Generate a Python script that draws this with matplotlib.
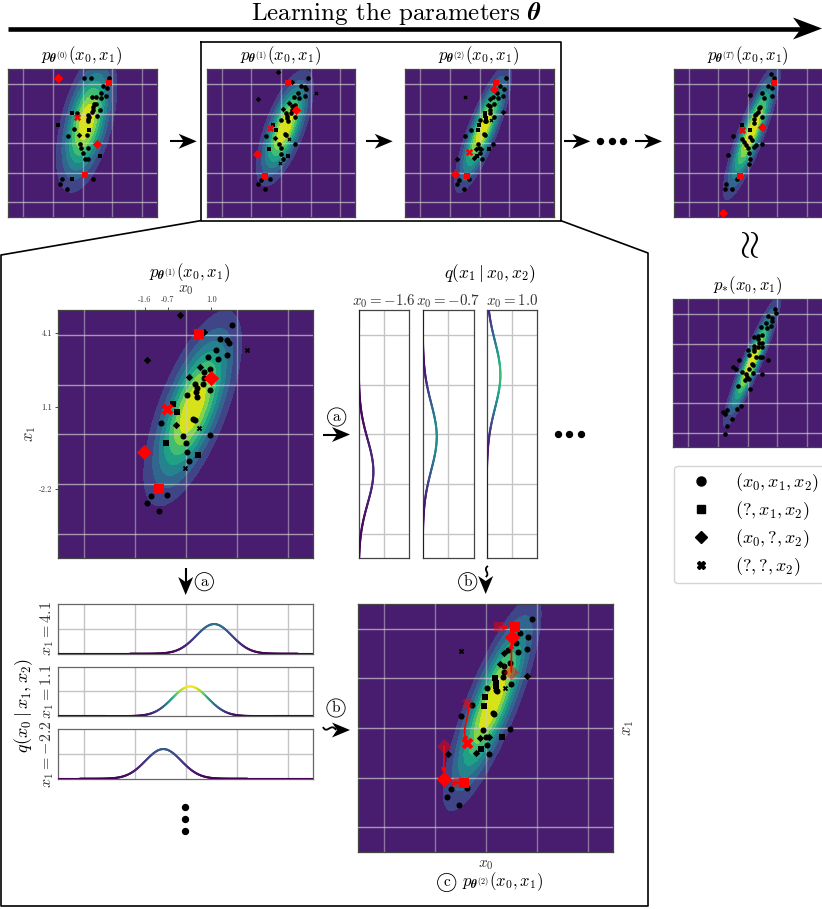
import numpy as np
import matplotlib
matplotlib.use("Agg")
import matplotlib.pyplot as plt
from matplotlib.collections import LineCollection
from matplotlib.lines import Line2D
from matplotlib.patches import FancyArrowPatch, PathPatch, Polygon
from matplotlib.path import Path

plt.rcParams["mathtext.fontset"] = "cm"
plt.rcParams["font.family"] = ["cmr10", "DejaVu Serif"]
plt.rcParams["axes.formatter.use_mathtext"] = True

# ── Data ───────────────────────────────────────────────────────────────────────
grid_vals = [-4, -2, 0, 2, 4]
x0_ticks = [-1.6, -0.7, 1.0]
x1_ticks = [4.1, 1.1, -2.2]

# gaussian per panel: mean x, mean y, sd x, sd y, rho
gauss_0 = (0.28, 1.45, 1.00, 2.33, 0.50)
gauss_1 = (0.27, 1.05, 0.94, 1.93, 0.68)
gauss_2 = (0.25, 1.00, 0.94, 2.12, 0.83)
gauss_T = (0.28, 0.80, 0.95, 2.26, 0.87)
gauss_s = (0.30, 0.80, 0.95, 2.16, 0.93)

t0_circle = [(0.10, 4.39), (0.55, 4.39), (1.79, 4.39), (1.68, 3.72), (1.36, 3.87), (1.25, 3.38), (1.59, 3.20),
             (1.25, 3.04), (0.64, 3.13), (0.89, 3.13), (0.80, 2.66), (0.93, 2.63), (0.69, 2.43), (0.73, 2.25),
             (1.16, 2.27), (0.66, 2.09), (-0.39, 2.07), (0.37, 1.91), (0.98, 1.82), (0.42, 1.75), (0.39, 1.53),
             (0.39, 1.62), (-0.55, 0.95), (0.30, 0.59), (-0.98, 0.50), (-0.17, -0.05), (-0.08, -0.34), (0.35, -0.34),
             (0.01, -0.68), (0.15, -1.06), (0.39, -1.06), (-1.36, -2.43), (-1.52, -2.75), (-1.07, -3.08), (0.71, -2.41)]
t0_square = [(-0.73, 2.05), (-1.66, 1.26), (0.42, 0.90), (1.16, -0.83), (-0.73, -2.41)]
t0_diamond = [(-0.21, 0.59)]
t0_cross = []
t0_red_square = [(1.79, 4.07), (0.15, -2.16)]
t0_red_diamond = [(-1.65, 4.39), (0.98, -0.05)]
t0_red_cross = [(-0.39, 1.75)]

t1_circle = [(1.81, 4.40), (1.36, 3.86), (1.60, 3.79), (1.68, 3.70), (1.18, 3.41), (1.61, 3.19), (1.25, 3.04),
             (0.88, 3.13), (0.94, 2.62), (0.72, 2.51), (0.72, 2.26), (0.68, 2.04), (0.35, 2.02), (0.43, 1.85),
             (0.41, 1.72), (0.45, 1.51), (0.04, 1.59), (0.96, 1.77), (0.28, 0.60), (0.35, 0.56), (-0.98, 0.46),
             (-0.10, -0.08), (0.94, -0.04), (-0.01, -0.34), (0.04, -0.70), (0.14, -1.08), (-1.36, -2.47),
             (-1.53, -2.78), (-1.06, -3.09), (-0.72, -2.43)]
t1_square = [(-0.50, 1.24), (-0.35, 0.89), (-0.79, -0.36), (0.47, -0.85)]
t1_diamond = [(-0.21, 4.81), (0.72, 4.14), (-1.52, 2.98), (0.56, 2.73), (0.12, 2.33), (-0.37, 0.39)]
t1_cross = [(2.40, 3.39), (0.52, 0.27), (-0.05, -1.36)]
t1_red_square = [(0.51, 4.06), (-1.07, -2.20)]
t1_red_diamond = [(1.00, 2.26), (-1.64, -0.71)]
t1_red_cross = [(-0.73, 1.03)]

t2_circle = [(1.80, 4.39), (1.36, 3.85), (1.67, 3.69), (1.19, 3.41), (1.61, 3.19), (1.25, 3.05), (0.89, 3.14),
             (0.95, 2.63), (0.72, 2.51), (0.73, 2.27), (0.69, 2.05), (0.97, 1.78), (0.04, 1.60), (0.39, 1.53),
             (0.43, 1.50), (-0.55, 0.93), (0.29, 0.60), (0.34, 0.58), (-0.98, 0.47), (-0.10, -0.08), (0.94, -0.04),
             (-0.01, -0.35), (0.04, -0.68), (0.14, -1.06), (-1.35, -2.46), (-1.53, -2.76), (-1.06, -3.09),
             (-0.72, -2.42)]
t2_square = [(0.37, 2.03), (0.39, 1.83), (0.41, 1.69), (-0.04, 1.26), (-0.07, 0.90), (0.63, -0.36), (-0.18, -0.83)]
t2_diamond = [(0.71, 3.02), (0.56, 2.58), (1.61, 2.12), (-0.21, -0.38), (0.12, -0.36), (-0.38, -1.01), (-1.50, -1.06)]
t2_cross = [(-0.99, 3.11), (0.76, 1.60)]
t2_red_square = [(1.14, 4.07), (-0.84, -2.19)]
t2_red_diamond = [(1.01, 3.68), (-1.65, -2.05)]
t2_red_cross = [(-0.73, -0.58)]

tT_circle = [(1.60, 4.70), (1.80, 4.39), (1.37, 3.87), (1.62, 3.71), (0.95, 3.42), (1.62, 3.20), (1.13, 3.06),
             (0.18, 3.26), (0.83, 2.48), (0.74, 2.36), (0.68, 2.14), (0.59, 1.98), (0.50, 1.91), (0.95, 1.80),
             (0.45, 1.62), (0.41, 1.35), (-0.99, 0.50), (0.18, 0.41), (0.32, 0.23), (0.56, -0.14), (0.95, -0.02),
             (0.00, -0.34), (0.09, -0.63), (0.16, -1.08), (0.11, -1.40), (-1.35, -0.81), (-1.44, -2.72),
             (-1.53, -3.06), (-1.08, -3.08), (-0.74, -2.43), (-0.41, 0.27), (-0.27, 0.09), (-0.11, -0.09),
             (0.45, -0.25)]
tT_square = [(0.18, 0.90), (-0.38, 1.24)]
tT_diamond = []
tT_cross = []
tT_red_square = [(1.80, 4.07), (-0.54, -2.18)]
tT_red_diamond = [(0.99, 1.13), (-1.64, -4.68)]
tT_red_cross = [(-0.41, 0.92)]

star_circle = [(1.82, 4.37), (1.91, 4.05), (1.37, 3.87), (1.67, 3.71), (1.62, 3.56), (1.22, 3.38), (0.88, 3.11),
               (1.60, 3.17), (1.31, 3.08), (0.97, 2.61), (0.72, 2.52), (0.47, 2.43), (0.74, 2.30), (0.99, 2.07),
               (0.77, 2.03), (0.43, 1.85), (0.72, 1.80), (0.99, 1.78), (0.43, 1.67), (0.05, 1.60), (0.45, 1.51),
               (0.11, 1.22), (0.56, 1.13), (0.86, 1.10), (1.01, 1.10), (1.40, 0.90), (-0.54, 0.92), (-0.97, 0.45),
               (-0.77, 0.27), (0.27, 0.61), (0.36, 0.59), (-0.36, 0.09), (0.11, 0.27), (0.38, 0.05), (0.95, -0.05),
               (-0.11, -0.07), (-0.02, -0.23), (0.07, -0.36), (-0.18, -0.45), (-0.63, -0.83), (0.14, -1.08),
               (-0.41, -2.21), (-0.72, -2.43), (-1.35, -2.45), (-1.62, -2.61), (-1.53, -2.75), (-1.06, -3.09),
               (-1.35, -3.58), (-1.51, -4.07)]

# conditional curves
q_x1_vals = [4.1, 1.1, -2.2]
q_x1_mean = [1.11, 0.17, -0.88]
q_x1_sd = [0.70, 0.70, 0.70]
q_x1_tone = [0.36, 1.00, 0.27]
q_x0_vals = [-1.6, -0.7, 1.0]
q_x0_mean = [-1.5, -0.1, 2.4]
q_x0_sd = [1.30, 1.35, 1.35]
q_x0_peak = [0.29, 0.275, 0.27]
q_x0_tone = [0.12, 0.50, 0.68]

# ── Figure layout ──────────────────────────────────────────────────────────────
W, H = 822, 909
fig = plt.figure(figsize=(W / 100, H / 100), dpi=100, facecolor="white")


def axes_px(left, top, right, bottom):
    return fig.add_axes([left / W, 1 - bottom / H, (right - left) / W, (bottom - top) / H])


def frame(ax, color="#444444"):
    for sp in ax.spines.values():
        sp.set_color(color)
        sp.set_linewidth(0.9)


def density_panel(ax, gauss, circle, square, diamond, cross, red_sq, red_di, red_cr, big=False):
    mx, my, sx, sy, rho = gauss
    g = np.linspace(-5, 5, 300)
    xx, yy = np.meshgrid(g, g)
    u, v = (xx - mx) / sx, (yy - my) / sy
    z = np.exp(-(u * u - 2 * rho * u * v + v * v) / (2 * (1 - rho * rho)))
    ax.contourf(xx, yy, z, levels=np.linspace(0, 1, 9), cmap="viridis", vmin=-0.02, vmax=1)
    for val in grid_vals:
        ax.axvline(val, color="#d0d0d0", lw=1.0, alpha=0.5, zorder=3)
        ax.axhline(val, color="#d8d8d8", lw=1.0, alpha=0.65, zorder=3)
    s_base, s_red = (19, 60) if big else (11, 23)
    for pts, mk, sc in [(circle, "o", 1.0), (square, "s", 0.9), (diamond, "D", 0.75), (cross, "X", 0.8)]:
        if pts:
            px, py = np.array(pts).T
            ax.scatter(px, py, s=s_base * sc, marker=mk, color="black", lw=0, zorder=4)
    for pts, mk, sc in [(red_sq, "s", 1.0), (red_di, "D", 1.0), (red_cr, "X", 1.2)]:
        if pts:
            px, py = np.array(pts).T
            ax.scatter(px, py, s=s_red * sc, marker=mk, color="red", lw=0, zorder=6)
    ax.set_xlim(-5, 5)
    ax.set_ylim(-5, 5)
    ax.set_xticks([])
    ax.set_yticks([])
    frame(ax)


def coloured_line(ax, xs, ys, vals):
    pts = np.column_stack([xs, ys]).reshape(-1, 1, 2)
    segs = np.concatenate([pts[:-1], pts[1:]], axis=1)
    lc = LineCollection(segs, cmap="viridis", norm=plt.Normalize(0, 1), lw=1.5, zorder=4, capstyle="round")
    lc.set_array(vals[:-1])
    ax.add_collection(lc)


# small panels along the top
SMALL_TOP, SMALL_BOT = 69.3, 217.3
ax_t0 = axes_px(8.3, SMALL_TOP, 156.7, SMALL_BOT)
ax_t1 = axes_px(206.7, SMALL_TOP, 355, SMALL_BOT)
ax_t2 = axes_px(405.3, SMALL_TOP, 553.7, SMALL_BOT)
ax_tT = axes_px(673.7, SMALL_TOP, 821.7, SMALL_BOT)
ax_star = axes_px(673.3, 299.3, 821.7, 447.3)
density_panel(ax_t0, gauss_0, t0_circle, t0_square, t0_diamond, t0_cross, t0_red_square, t0_red_diamond, t0_red_cross)
density_panel(ax_t1, gauss_1, t1_circle, t1_square, t1_diamond, t1_cross, t1_red_square, t1_red_diamond, t1_red_cross)
density_panel(ax_t2, gauss_2, t2_circle, t2_square, t2_diamond, t2_cross, t2_red_square, t2_red_diamond, t2_red_cross)
density_panel(ax_tT, gauss_T, tT_circle, tT_square, tT_diamond, tT_cross, tT_red_square, tT_red_diamond, tT_red_cross)
density_panel(ax_star, gauss_s, star_circle, [], [], [], [], [], [])

# big panel theta 1
ax_big1 = axes_px(58.3, 310.3, 313.3, 558.3)
density_panel(ax_big1, gauss_1, t1_circle, t1_square, t1_diamond, t1_cross,
              t1_red_square, t1_red_diamond, t1_red_cross, big=True)
ax_big1.xaxis.tick_top()
ax_big1.set_xticks(x0_ticks, [str(v) for v in x0_ticks])
ax_big1.set_yticks(x1_ticks, [str(v) for v in x1_ticks])
ax_big1.tick_params(labelsize=6, length=2.5, width=0.6, colors="#333333", pad=2)

# big panel theta 2, with the moves of the red points
ax_big2 = axes_px(358.3, 604, 613.3, 852.3)
density_panel(ax_big2, gauss_2, t2_circle, t2_square, t2_diamond, t2_cross,
              t2_red_square, t2_red_diamond, t2_red_cross, big=True)
for pts, mk in [(t1_red_square, "s"), (t1_red_diamond, "D"), (t1_red_cross, "X")]:
    px, py = np.array(pts).T
    ax_big2.scatter(px, py, s=60, marker=mk, color="red", alpha=0.45, lw=0, zorder=5)
for start, end in [(t1_red_square[0], t2_red_square[0]), (t1_red_square[1], t2_red_square[1]),
                   (t1_red_diamond[0], t2_red_diamond[0]), (t1_red_diamond[1], t2_red_diamond[1])]:
    ax_big2.annotate("", xy=end, xytext=start, zorder=7,
                     arrowprops=dict(arrowstyle="-|>", color="red", lw=1.2, mutation_scale=7, shrinkA=0, shrinkB=4))
wave = Path([t1_red_cross[0], (-0.55, 0.45), (-1.0, 0.10), t2_red_cross[0]],
            [Path.MOVETO, Path.CURVE4, Path.CURVE4, Path.CURVE4])
ax_big2.add_patch(FancyArrowPatch(path=wave, arrowstyle="-|>", color="red", lw=1.2, mutation_scale=7, zorder=7))

# vertical conditionals
for left, right, val, mean, sd, peak, tone in zip([358.7, 422.7, 486.7], [409.3, 473.7, 537.3], q_x0_vals,
                                                  q_x0_mean, q_x0_sd, q_x0_peak, q_x0_tone):
    ax = axes_px(left, 310.3, right, 558.3)
    ys = np.linspace(-5, 5, 300)
    bell = np.exp(-0.5 * ((ys - mean) / sd) ** 2)
    for g_val in grid_vals:
        ax.axhline(g_val, color="#c4c4c4", lw=1.0, zorder=1)
    ax.axvline(0.5, color="#c4c4c4", lw=1.0, zorder=1)
    coloured_line(ax, peak * bell, ys, tone * bell)
    ax.set_xlim(0, 1)
    ax.set_ylim(-5, 5)
    ax.set_xticks([])
    ax.set_yticks([])
    frame(ax)
    ax.set_title(f"$x_0 = {val}$", fontsize=10.8, pad=1, color="#333333")

# horizontal conditionals
for top, val, mean, sd, tone in zip([604.3, 666.7, 729.3], q_x1_vals, q_x1_mean, q_x1_sd, q_x1_tone):
    ax = axes_px(58.3, top, 313.3, top + 49.4)
    xs = np.linspace(-5, 5, 300)
    bell = np.exp(-0.5 * ((xs - mean) / sd) ** 2)
    for g_val in grid_vals:
        ax.axvline(g_val, color="#c4c4c4", lw=1.0, zorder=1)
    ax.axhline(0.5, color="#c4c4c4", lw=1.0, zorder=1)
    coloured_line(ax, xs, 0.6 * bell, tone * bell)
    ax.set_xlim(-5, 5)
    ax.set_ylim(0, 1)
    ax.set_xticks([])
    ax.set_yticks([])
    frame(ax, "#666666")
    ax.set_ylabel(f"$x_1 = {val}$", fontsize=11.5, labelpad=2, color="#333333")

# ── Overlay in pixel coordinates for frames, arrows and labels ─────────────────
ov = fig.add_axes([0, 0, 1, 1], zorder=10)
ov.set_xlim(0, W)
ov.set_ylim(H, 0)
ov.axis("off")
ov.patch.set_alpha(0)


def stealth(start, end, hl=18, hw=15, lw=1.5, draw_shaft=True):
    s, e = np.array(start, float), np.array(end, float)
    d = (e - s) / np.linalg.norm(e - s)
    n = np.array([-d[1], d[0]])
    back, notch = e - d * hl, e - d * hl * 0.72
    ov.add_patch(Polygon([e, back + n * hw / 2, notch, back - n * hw / 2], closed=True, fc="black", ec="none"))
    if draw_shaft:
        ov.plot([s[0], notch[0]], [s[1], notch[1]], color="black", lw=lw, solid_capstyle="butt")


def squiggle(points):
    ov.add_patch(PathPatch(Path(points, [Path.MOVETO, Path.CURVE4, Path.CURVE4, Path.CURVE4]),
                           fc="none", ec="black", lw=1.3))


def circled(x, y, letter):
    ov.text(x, y, letter, fontsize=11, ha="center", va="center",
            bbox=dict(boxstyle="circle,pad=0.15", fc="white", ec="black", lw=0.6))


def dots(xs, ys):
    ov.scatter(xs, ys, s=28, color="black", lw=0)


# top arrow and title
stealth((8, 28.5), (822, 28.5), hl=29, hw=22, lw=3.3)
ov.text(396.5, 20, r"Learning the parameters $\boldsymbol{\theta}$", fontsize=18, ha="center", va="baseline")

# iteration arrows
stealth((170, 141.3), (196.7, 141.3))
stealth((366, 141.3), (392.7, 141.3))
stealth((563.7, 141.3), (590.3, 141.3))
dots([600, 611.5, 623], [141.3] * 3)
stealth((635.3, 141.3), (662, 141.3))

# box around panels and zoom frame
ov.plot([200.5, 561, 561, 200.5, 200.5], [42.3, 42.3, 220.7, 220.7, 42.3], color="black", lw=1.2)
ov.plot([200.5, 1, 1, 648, 648, 561], [220.7, 255, 906, 906, 253, 220.7], color="black", lw=1.2)

# panel titles
for cx, label in [(82, r"$p_{\boldsymbol{\theta}^{(0)}}(x_0, x_1)$"),
                  (280.5, r"$p_{\boldsymbol{\theta}^{(1)}}(x_0, x_1)$"),
                  (479, r"$p_{\boldsymbol{\theta}^{(2)}}(x_0, x_1)$"),
                  (747.5, r"$p_{\boldsymbol{\theta}^{(T)}}(x_0, x_1)$")]:
    ov.text(cx, 56, label, fontsize=12, ha="center", va="center")
ov.text(747.5, 286, r"$p_{*}(x_0, x_1)$", fontsize=12, ha="center", va="center")
ov.text(749, 248, r"$\approx$", fontsize=28, rotation=90, ha="center", va="center")

ov.text(190, 272.5, r"$p_{\boldsymbol{\theta}^{(1)}}(x_0, x_1)$", fontsize=12, ha="center", va="center")
ov.text(186, 290.5, r"$x_0$", fontsize=11, ha="center", va="center", color="#333333")
ov.text(30, 434, r"$x_1$", fontsize=12, rotation=90, ha="center", va="center", color="#333333")
ov.text(490, 274, r"$q(x_1 \mid x_0, x_2)$", fontsize=12.5, ha="center", va="center")
ov.text(24, 705, r"$q(x_0 \mid x_1, x_2)$", fontsize=13, rotation=90, ha="center", va="center")
ov.text(628.3, 728, r"$x_1$", fontsize=12, rotation=90, ha="center", va="center", color="#333333")
ov.text(485.7, 865, r"$x_0$", fontsize=11, ha="center", va="center", color="#333333")
ov.text(503, 882, r"$p_{\boldsymbol{\theta}^{(2)}}(x_0, x_1)$", fontsize=12, ha="center", va="center")
circled(446.7, 882.5, "c")

# step arrows
stealth((323, 434.5), (350, 434.5))
circled(336.7, 417, "a")
dots([557.7, 569.3, 581.3], [434.3] * 3)
stealth((185.7, 568), (185.7, 595))
circled(204.3, 581.7, "a")
squiggle([(488, 566), (482, 570), (491, 573), (485.7, 577)])
stealth((485.7, 575), (485.7, 594), draw_shaft=False)
circled(467.7, 581.7, "b")
squiggle([(323, 727), (327, 735), (331, 722), (336, 730)])
stealth((332, 730), (350, 730), draw_shaft=False)
circled(336, 708, "b")
dots([185, 185, 185], [807, 819, 830.5])

# legend
handles = [Line2D([], [], marker=m, color="black", ls="none", ms=ms)
           for m, ms in [("o", 6.5), ("s", 6), ("D", 6), ("X", 6)]]
labels = [r"$(x_0, x_1, x_2)$", r"$(?, x_1, x_2)$", r"$(x_0, ?, x_2)$", r"$(?, ?, x_2)$"]
fig.legend(handles, labels, loc="upper left", bbox_to_anchor=(674 / W, 1 - 465.7 / H), fontsize=13,
           borderaxespad=0, handlelength=2.4, handletextpad=0.7, labelspacing=0.29, borderpad=0.3,
           edgecolor="#d5d5d5", framealpha=1, alignment="left")

fig.savefig("out.png", dpi=100, facecolor="white")
